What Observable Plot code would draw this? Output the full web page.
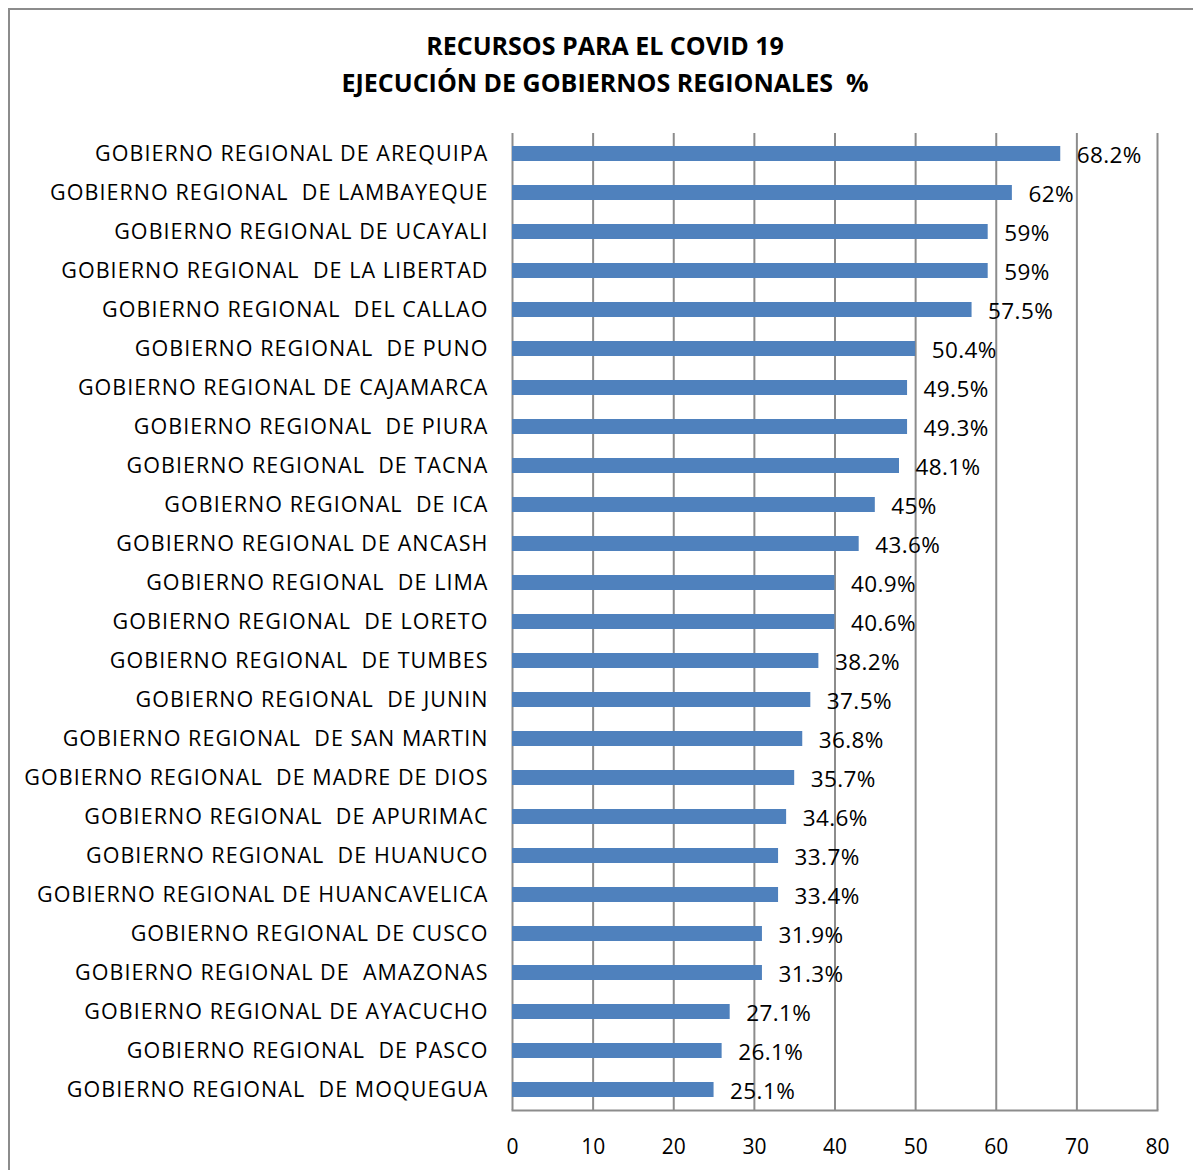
<!DOCTYPE html>
<html>
<head>
<meta charset="utf-8">
<script src="https://cdn.jsdelivr.net/npm/d3@7"></script>
<script src="https://cdn.jsdelivr.net/npm/@observablehq/plot@0.6"></script>
<style>
  html, body { margin: 0; padding: 0; background: #fff; }
  #wrap { position: relative; width: 1193px; height: 1170px; overflow: hidden; font-family: "Open Sans", sans-serif; }
  #frame { position: absolute; left: 8px; top: 8px; width: 1300px; height: 1300px; border: 2px solid #8c8c8c; box-sizing: border-box; }
  #title { position: absolute; left: 8px; width: 1194px; top: 27px; text-align: center; font-weight: bold; font-size: 25px; line-height: 37px; color: #000; }
  #chart { position: absolute; left: 0; top: 0; }
  #chart text { white-space: pre; }
  #chart g[aria-label="y-axis tick label"] text { letter-spacing: 1.05px; }
  #chart g[aria-label="text"] text { letter-spacing: 0.4px; }
</style>
</head>
<body>
<div id="wrap">
  <div id="frame"></div>
  <div id="chart"></div>
  <div id="title">RECURSOS PARA EL COVID 19<br>EJECUCIÓN DE GOBIERNOS REGIONALES&nbsp; %</div>
</div>
<script>
const regions = [
  "GOBIERNO REGIONAL DE AREQUIPA",
  "GOBIERNO REGIONAL  DE LAMBAYEQUE",
  "GOBIERNO REGIONAL DE UCAYALI",
  "GOBIERNO REGIONAL  DE LA LIBERTAD",
  "GOBIERNO REGIONAL  DEL CALLAO",
  "GOBIERNO REGIONAL  DE PUNO",
  "GOBIERNO REGIONAL DE CAJAMARCA",
  "GOBIERNO REGIONAL  DE PIURA",
  "GOBIERNO REGIONAL  DE TACNA",
  "GOBIERNO REGIONAL  DE ICA",
  "GOBIERNO REGIONAL DE ANCASH",
  "GOBIERNO REGIONAL  DE LIMA",
  "GOBIERNO REGIONAL  DE LORETO",
  "GOBIERNO REGIONAL  DE TUMBES",
  "GOBIERNO REGIONAL  DE JUNIN",
  "GOBIERNO REGIONAL  DE SAN MARTIN",
  "GOBIERNO REGIONAL  DE MADRE DE DIOS",
  "GOBIERNO REGIONAL  DE APURIMAC",
  "GOBIERNO REGIONAL  DE HUANUCO",
  "GOBIERNO REGIONAL DE HUANCAVELICA",
  "GOBIERNO REGIONAL DE CUSCO",
  "GOBIERNO REGIONAL DE  AMAZONAS",
  "GOBIERNO REGIONAL DE AYACUCHO",
  "GOBIERNO REGIONAL  DE PASCO",
  "GOBIERNO REGIONAL  DE MOQUEGUA"
];
// Bar lengths as drawn in the picture (bars end on whole units)
const barValues = [68, 62, 59, 59, 57, 50, 49, 49, 48, 45, 43, 40, 40, 38, 37, 36, 35, 34, 33, 33, 31, 31, 27, 26, 25];
// Data labels as printed next to each bar
const valueLabels = ["68.2%", "62%", "59%", "59%", "57.5%", "50.4%", "49.5%", "49.3%", "48.1%", "45%", "43.6%", "40.9%", "40.6%", "38.2%", "37.5%", "36.8%", "35.7%", "34.6%", "33.7%", "33.4%", "31.9%", "31.3%", "27.1%", "26.1%", "25.1%"];
const xTicks = [0, 10, 20, 30, 40, 50, 60, 70, 80];

const data = regions.map((r, i) => ({region: r, value: barValues[i], label: valueLabels[i]}));

const chart = Plot.plot({
  width: 1193,
  height: 1170,
  marginLeft: 512,
  marginRight: 36,
  marginTop: 133,
  marginBottom: 60,
  style: {fontFamily: "'Open Sans', sans-serif", fontSize: "20px", color: "#000", background: "transparent"},
  x: {domain: [0, 80], ticks: xTicks, label: null},
  y: {domain: regions, label: null, paddingInner: 0.615, paddingOuter: 0.3075},
  marks: [
    Plot.ruleX(xTicks, {stroke: "#8c8c8c", strokeWidth: 2, strokeOpacity: 1}),
    Plot.frame({anchor: "bottom", stroke: "#8c8c8c", strokeWidth: 2, strokeOpacity: 1}),
    Plot.barX(data, {x: "value", y: "region", fill: "#4f81bd"}),
    Plot.text(data, {x: "value", y: "region", text: "label", textAnchor: "start", dx: 16, dy: 2, fill: "#000", fontSize: 22.5}),
    Plot.axisY({tickSize: 0, tickPadding: 24, fontSize: 21.5, label: null}),
    Plot.axisX({ticks: xTicks, tickSize: 0, tickPadding: 29, fontSize: 21, label: null})
  ]
});
document.getElementById("chart").appendChild(chart);
</script>
</body>
</html>
